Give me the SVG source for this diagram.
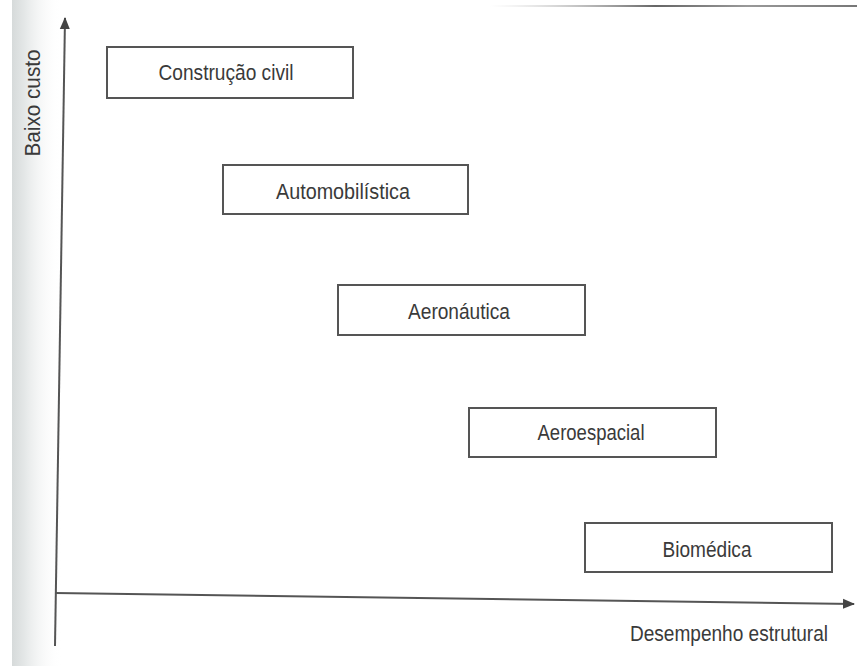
<svg xmlns="http://www.w3.org/2000/svg" width="857" height="666" viewBox="0 0 857 666">
  <style>
    .box rect { fill: #ffffff; stroke: #555555; stroke-width: 2; }
    .lbl { font-family: "Liberation Sans", Arial, sans-serif; font-size: 22px; fill: #3a3a3a; text-anchor: middle; }
    .axis { stroke: #555555; stroke-width: 2; fill: none; }
  </style>
  <defs>
    <marker id="arrow" markerWidth="12" markerHeight="12" refX="11" refY="6" orient="auto" markerUnits="userSpaceOnUse">
      <path d="M0,1 L12,6 L0,11 Z" fill="#444444"/>
    </marker>
    <linearGradient id="shade" x1="0" y1="0" x2="1" y2="0">
      <stop offset="0" stop-color="#d6dada"/>
      <stop offset="0.25" stop-color="#e4e7e7"/>
      <stop offset="1" stop-color="#ffffff" stop-opacity="0"/>
    </linearGradient>
    <linearGradient id="edge" x1="0" y1="0" x2="1" y2="0">
      <stop offset="0" stop-color="#bbbbbb" stop-opacity="0"/>
      <stop offset="0.45" stop-color="#666666"/>
      <stop offset="0.7" stop-color="#999999"/>
      <stop offset="1" stop-color="#777777"/>
    </linearGradient>
  </defs>
  <rect x="0" y="0" width="857" height="666" fill="#ffffff"/>
  <rect x="12" y="0" width="50" height="666" fill="url(#shade)"/>
  <rect x="490" y="5" width="367" height="2" fill="url(#edge)"/>

  <g id="axes">
    <line class="axis" x1="55" y1="646" x2="65" y2="18" marker-end="url(#arrow)"/>
    <line class="axis" x1="55" y1="593" x2="854" y2="604" marker-end="url(#arrow)"/>
    <text class="lbl" transform="translate(40,103) rotate(-90)" textLength="107" lengthAdjust="spacingAndGlyphs">Baixo custo</text>
    <text class="lbl" x="729" y="641" textLength="198" lengthAdjust="spacingAndGlyphs">Desempenho estrutural</text>
  </g>

  <g id="construcao" class="box">
    <rect x="107" y="47" width="246" height="51"/>
    <text class="lbl" x="226" y="80" textLength="135" lengthAdjust="spacingAndGlyphs">Construção civil</text>
  </g>
  <g id="automobilistica" class="box">
    <rect x="223" y="165" width="245" height="49"/>
    <text class="lbl" x="343" y="199" textLength="134" lengthAdjust="spacingAndGlyphs">Automobilística</text>
  </g>
  <g id="aeronautica" class="box">
    <rect x="338" y="285" width="247" height="50"/>
    <text class="lbl" x="459" y="319" textLength="102" lengthAdjust="spacingAndGlyphs">Aeronáutica</text>
  </g>
  <g id="aeroespacial" class="box">
    <rect x="469" y="408" width="247" height="49"/>
    <text class="lbl" x="591" y="440" textLength="107" lengthAdjust="spacingAndGlyphs">Aeroespacial</text>
  </g>
  <g id="biomedica" class="box">
    <rect x="585" y="523" width="247" height="49"/>
    <text class="lbl" x="707" y="557" textLength="89" lengthAdjust="spacingAndGlyphs">Biomédica</text>
  </g>
</svg>
